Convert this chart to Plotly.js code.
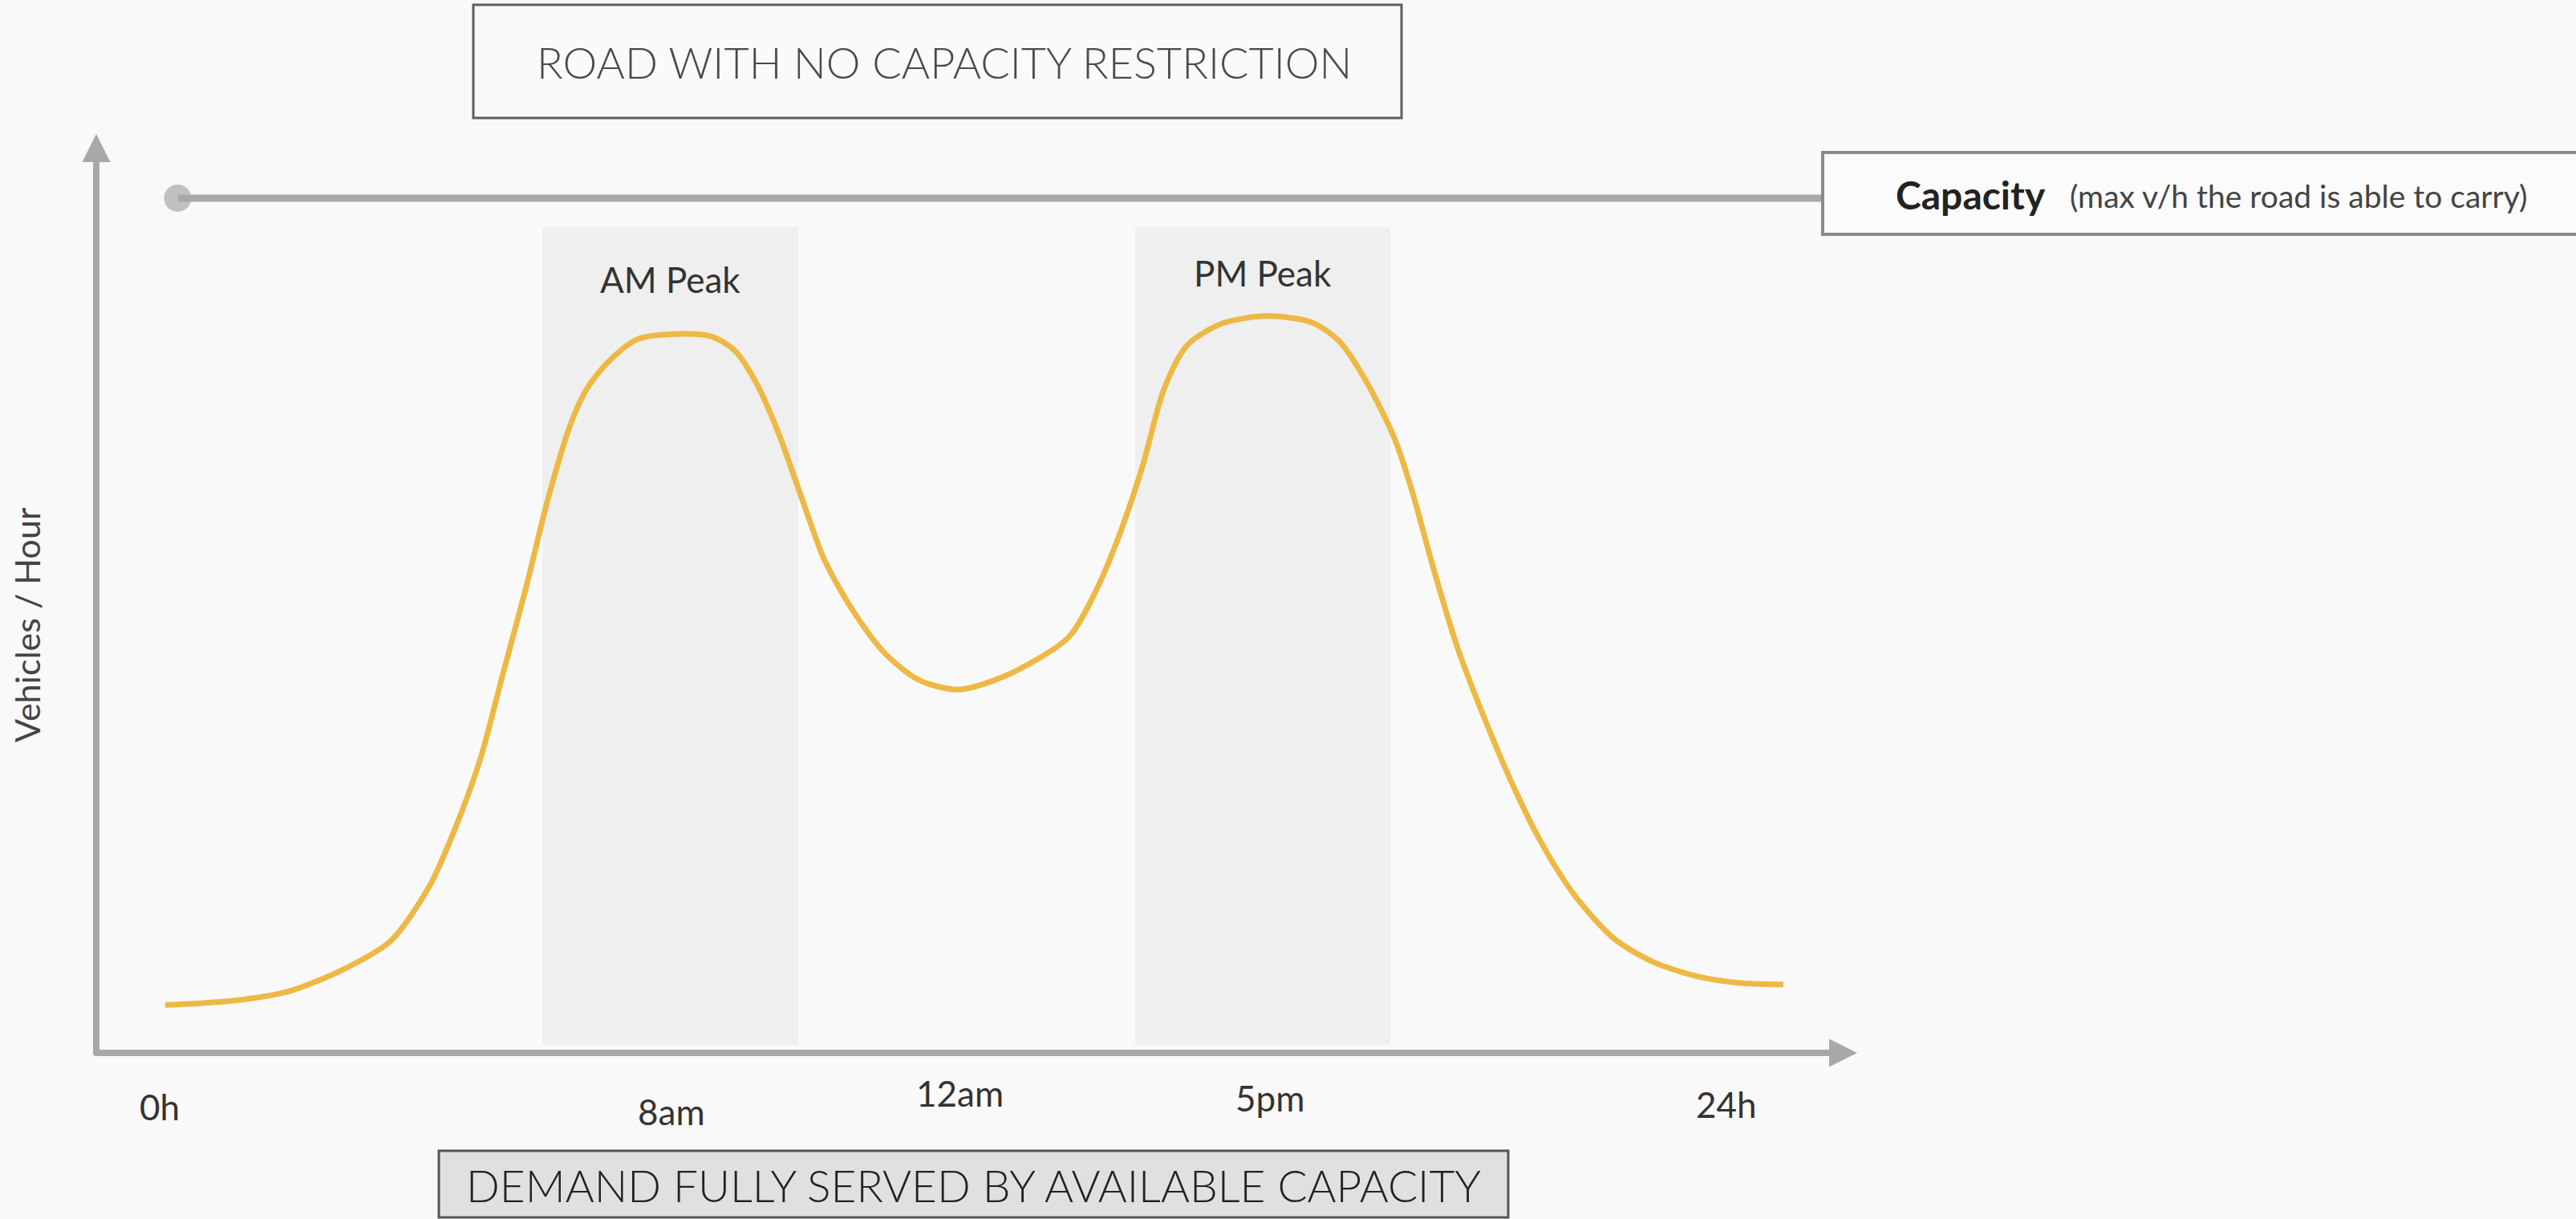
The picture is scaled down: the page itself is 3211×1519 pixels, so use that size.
<!DOCTYPE html>
<html>
<head>
<meta charset="utf-8">
<script src="https://cdn.plot.ly/plotly-3.0.1.min.js"></script>
<style>
  html, body { margin: 0; padding: 0; background: #f9f9f9; }
  #chart { width: 3211px; height: 1519px; }
</style>
</head>
<body>
<div id="chart"></div>
<script>
// Daily traffic demand on a road without a capacity restriction
// (hour of day, vehicles per hour in relative units).
const hours = [0.09, 1.12, 1.98, 2.85, 3.54, 4.14, 4.57, 4.92, 5.26, 5.60, 5.95, 6.29, 6.55, 6.89,
  7.32, 7.92, 8.45, 8.80, 9.14, 9.48, 9.83, 10.17, 10.60, 11.12, 11.63, 12.23, 12.97, 13.91,
  14.34, 14.70, 15.04, 15.38, 15.73, 16.25, 16.93, 17.62, 18.05, 18.48, 18.91, 19.17, 19.51,
  19.86, 20.30, 20.73, 21.16, 21.67, 22.27, 22.87, 23.56, 24.16, 24.85];
const demand = [5.6, 6.1, 7.2, 9.9, 13.1, 19.6, 27.1, 34.6, 44.4, 54.1, 64.9, 73.5, 77.8, 81.0,
  83.5, 84.1, 83.8, 82.2, 78.3, 72.4, 64.9, 57.8, 51.9, 46.6, 43.6, 42.5, 44.2, 48.6,
  54.2, 60.8, 68.5, 77.8, 82.8, 85.3, 86.2, 85.5, 83.3, 78.4, 71.7, 65.7, 56.3,
  47.5, 38.7, 31.0, 24.4, 18.3, 13.3, 10.6, 8.9, 8.2, 8.0];

const capacity = 100;
const capacitySpan = [0.28, 25.49];

const amPeak = [5.86, 9.78];
const pmPeak = [14.93, 18.84];
const peakLabels = ['AM Peak', 'PM Peak'];

const tickHours = [0, 8, 12, 17, 24];
const tickLabels = ['0h', '8am', '12am', '5pm', '24h'];

const titleText = 'ROAD WITH NO CAPACITY RESTRICTION';
const footerText = 'DEMAND FULLY SERVED BY AVAILABLE CAPACITY';
const capacityTitle = 'Capacity';
const capacityNote = '(max v/h the road is able to carry)';
const yTitle = 'Vehicles / Hour';

// ---- page geometry ----
const W = 3211, H = 1519;
const M = { l: 120, r: 896, t: 167, b: 207 };
const PW = W - M.l - M.r, PH = H - M.t - M.b;
const xRange = [-0.965, 25.98];
const yRange = [0, 107.5];
const px = v => (v - M.l) / PW;          // page x (px) -> paper
const py = v => (H - M.b - v) / PH;      // page y (px) -> paper

const FONT = 'Lato, "Open Sans", sans-serif';
const AXIS_GREY = '#a8a8a8';

const traces = [
  {
    x: capacitySpan, y: [capacity, capacity],
    mode: 'lines+markers', type: 'scatter',
    line: { color: '#a9a9a9', width: 9 },
    marker: { color: '#a9a9a9', size: [34, 0], line: { width: 0 } },
    hoverinfo: 'skip', cliponaxis: false
  },
  {
    x: hours, y: demand,
    mode: 'lines', type: 'scatter',
    line: { color: '#eeb844', width: 7, shape: 'spline', smoothing: 0.8 },
    hoverinfo: 'skip', cliponaxis: false
  }
];

const bandY0 = (1312 - 1302) / PH * (yRange[1] - yRange[0]);
const bandY1 = (1312 - 283) / PH * (yRange[1] - yRange[0]);

const shapes = [
  // peak windows
  ...[amPeak, pmPeak].map(p => ({
    type: 'rect', xref: 'x', yref: 'y', x0: p[0], x1: p[1], y0: bandY0, y1: bandY1,
    fillcolor: '#efefef', line: { width: 0 }, layer: 'below'
  })),
  // title box
  {
    type: 'rect', xref: 'paper', yref: 'paper',
    x0: px(590), x1: px(1747), y0: py(147), y1: py(6),
    fillcolor: '#fafafa', line: { color: '#5e5e5e', width: 3 }, layer: 'above'
  },
  // capacity label box (runs off the right edge)
  {
    type: 'rect', xref: 'paper', yref: 'paper',
    x0: px(2272), x1: px(3240), y0: py(292), y1: py(190),
    fillcolor: '#fbfbfb', line: { color: '#8a8a8a', width: 4 }, layer: 'above'
  },
  // footer box
  {
    type: 'rect', xref: 'paper', yref: 'paper',
    x0: px(547), x1: px(1880), y0: py(1517), y1: py(1434),
    fillcolor: '#e0e0e0', line: { color: '#555555', width: 3 }, layer: 'above'
  }
];

const tickShift = [0, -13, 20, 0, -2];
const tickY = [1379, 1385, 1362, 1368, 1376];

const text = (o) => Object.assign({ showarrow: false, xanchor: 'center', yanchor: 'middle' }, o);

const annotations = [
  // axes with arrow heads
  {
    xref: 'x', yref: 'y', axref: 'x', ayref: 'y',
    x: xRange[1], y: 0, ax: xRange[0] - 4 / (PW / (xRange[1] - xRange[0])), ay: 0,
    text: '', showarrow: true, arrowhead: 2, arrowsize: 0.875, arrowwidth: 8, arrowcolor: AXIS_GREY
  },
  {
    xref: 'x', yref: 'y', axref: 'x', ayref: 'y',
    x: xRange[0], y: yRange[1], ax: xRange[0], ay: -4 / (PH / (yRange[1] - yRange[0])),
    text: '', showarrow: true, arrowhead: 2, arrowsize: 0.875, arrowwidth: 8, arrowcolor: AXIS_GREY
  },
  // texts
  text({
    xref: 'paper', yref: 'paper', x: px(1177), y: py(77),
    text: titleText, font: { family: FONT, size: 54, color: '#4a4a4a', weight: 300 }
  }),
  text({
    xref: 'paper', yref: 'paper', x: px(2361), y: py(242), xanchor: 'left',
    text: '<b>' + capacityTitle + '</b>', font: { family: FONT, size: 48, color: '#222222' }
  }),
  text({
    xref: 'paper', yref: 'paper', x: px(2578), y: py(244), xanchor: 'left',
    text: capacityNote, font: { family: FONT, size: 39, color: '#444444' }
  }),
  text({
    xref: 'paper', yref: 'paper', x: px(1213), y: py(1477),
    text: footerText, font: { family: FONT, size: 55, color: '#222222', weight: 300 }
  }),
  text({
    xref: 'paper', yref: 'paper', x: px(33), y: py(778), textangle: -90,
    text: yTitle, font: { family: FONT, size: 43, color: '#444444' }
  }),
  text({
    xref: 'x', yref: 'paper', x: (amPeak[0] + amPeak[1]) / 2, y: py(348),
    text: peakLabels[0], font: { family: FONT, size: 44, color: '#333333' }
  }),
  text({
    xref: 'x', yref: 'paper', x: (pmPeak[0] + pmPeak[1]) / 2, y: py(340),
    text: peakLabels[1], font: { family: FONT, size: 44, color: '#333333' }
  }),
  ...tickHours.map((h, i) => text({
    xref: 'x', yref: 'paper', x: h, y: py(tickY[i]), xshift: tickShift[i],
    text: tickLabels[i], font: { family: FONT, size: 44, color: '#333333' }
  }))
];

const layout = {
  width: W, height: H,
  margin: M,
  paper_bgcolor: '#f9f9f9', plot_bgcolor: '#f9f9f9',
  showlegend: false,
  xaxis: { range: xRange, visible: false, fixedrange: true },
  yaxis: { range: yRange, visible: false, fixedrange: true },
  shapes, annotations
};

Plotly.newPlot('chart', traces, layout, { displayModeBar: false, staticPlot: true });
</script>
</body>
</html>
